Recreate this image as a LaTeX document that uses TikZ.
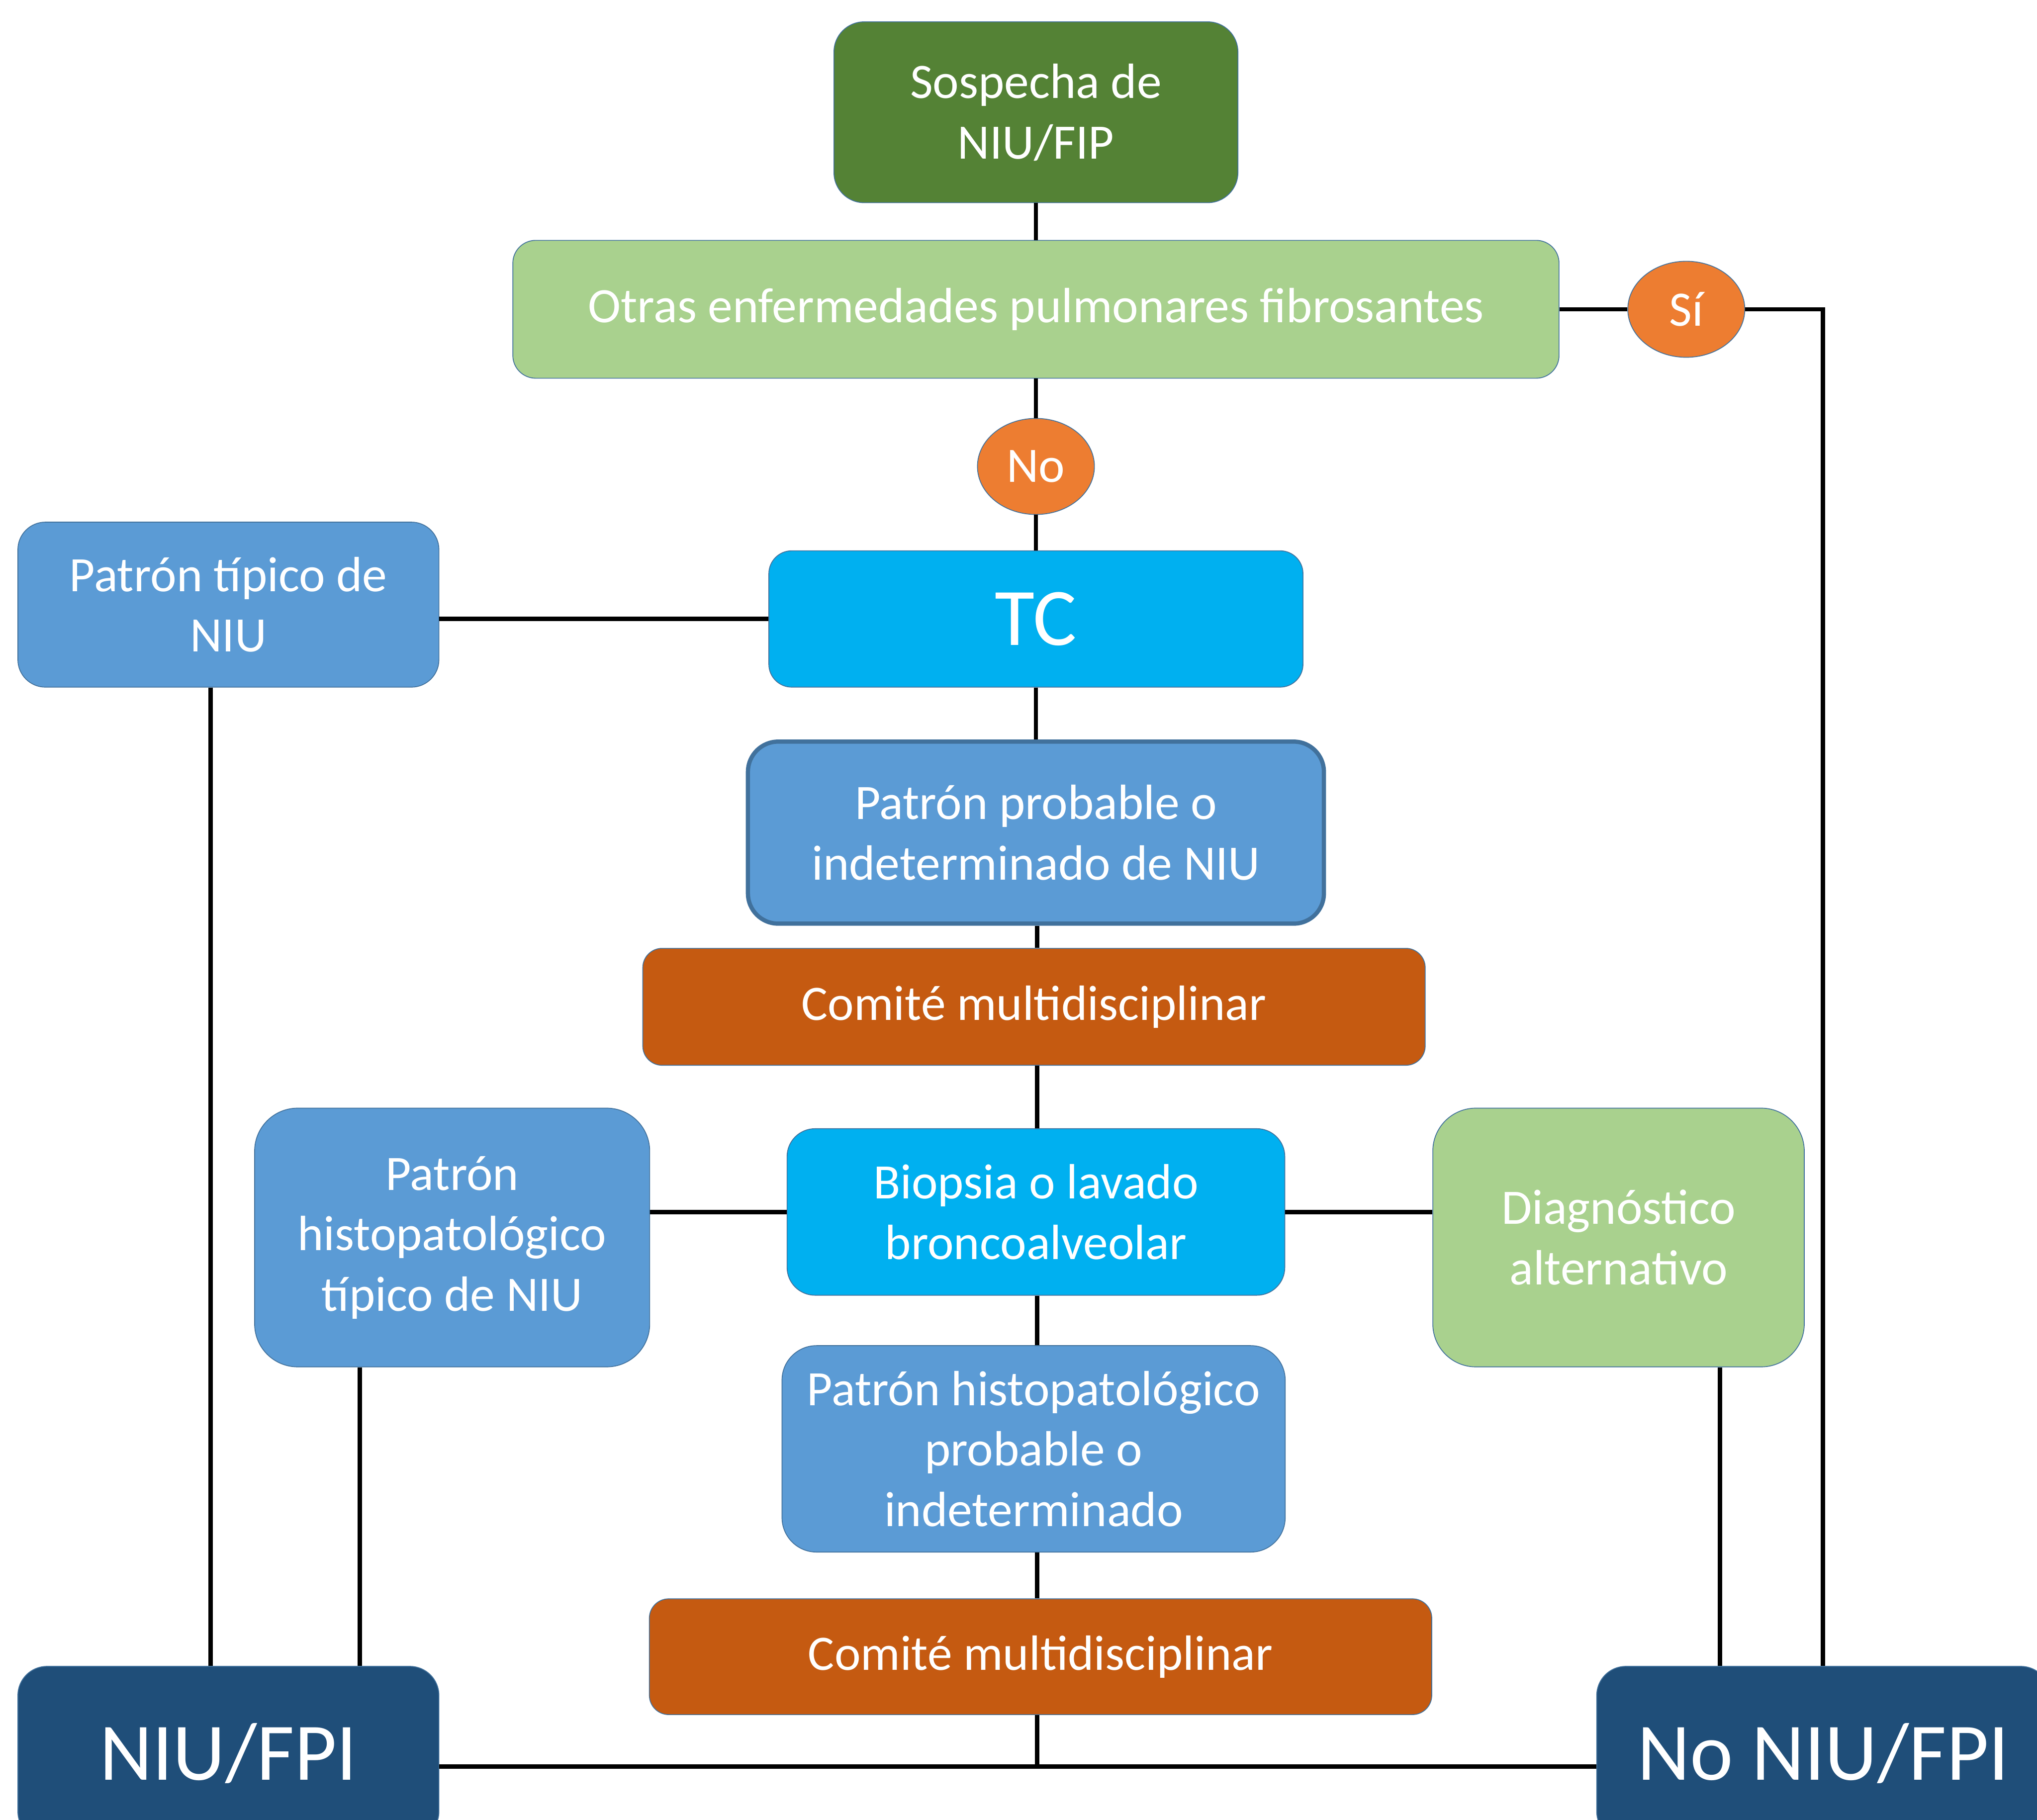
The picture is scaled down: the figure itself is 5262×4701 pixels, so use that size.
\documentclass[tikz,border=0pt]{standalone}
\usepackage{fontspec}
\setmainfont{Carlito}
\usetikzlibrary{shapes.geometric}
\definecolor{cGreenD}{HTML}{548235}
\definecolor{cGreenL}{HTML}{A9D18E}
\definecolor{cOrange}{HTML}{ED7D31}
\definecolor{cCyan}{HTML}{00B0F0}
\definecolor{cBlue}{HTML}{5B9BD5}
\definecolor{cBrown}{HTML}{C55A11}
\definecolor{cNavy}{HTML}{1F4E79}
\definecolor{cEdge}{HTML}{41719C}
\tikzset{
  box/.style={rectangle, draw=cEdge, line width=0.6pt, text=white, align=center, inner sep=0pt,
    font=\fontsize{36.4}{44.4}\selectfont},
  bigbox/.style={box, font=\fontsize{60}{72}\selectfont},
  oval/.style={ellipse, draw=cEdge, line width=0.6pt, fill=cOrange, text=white, inner sep=0pt,
    font=\fontsize{36.4}{44.4}\selectfont, minimum width=3.02cm, minimum height=2.48cm},
  conn/.style={line width=3.2pt, black}
}
\begin{document}
\begin{tikzpicture}[x=0.01cm, y=-0.01cm]
\useasboundingbox (0,0) rectangle (5262,4701);
\clip (0,0) rectangle (5262,4701);
\fill[white] (0,0) rectangle (5262,4701);

\node[box, fill=cGreenD, minimum width=10.43cm, minimum height=4.67cm, rounded corners=0.78cm] (sosp) at (2676,290) {Sospecha de\\NIU/FIP};
\node[box, fill=cGreenL, minimum width=27.01cm, minimum height=3.56cm, rounded corners=0.59cm] (otras) at (2676,799) {Otras enfermedades pulmonares fibrosantes};
\node[oval] (si) at (4356,799) {Sí};
\node[oval] (no) at (2676,1205) {No};
\node[bigbox, fill=cCyan, minimum width=13.79cm, minimum height=3.52cm, rounded corners=0.59cm] (tc) at (2676,1599) {TC};
\node[box, fill=cBlue, minimum width=10.87cm, minimum height=4.26cm, rounded corners=0.71cm] (ptip) at (590,1562) {Patrón típico de\\NIU};
\node[box, fill=cBlue, line width=3.1pt, minimum width=14.87cm, minimum height=4.70cm, rounded corners=0.78cm] (pprob) at (2676,2151) {Patrón probable o\\indeterminado de NIU};
\node[box, fill=cBrown, minimum width=20.20cm, minimum height=3.02cm, rounded corners=0.50cm] (com1) at (2671,2601) {Comité multidisciplinar};
\node[box, fill=cCyan, minimum width=12.85cm, minimum height=4.30cm, rounded corners=0.72cm] (biop) at (2676,3131) {Biopsia o lavado\\broncoalveolar};
\node[box, fill=cBlue, minimum width=10.20cm, minimum height=6.68cm, rounded corners=1.11cm] (phtip) at (1168,3197) {Patrón\\histopatológico\\típico de NIU};
\node[box, fill=cGreenL, minimum width=9.59cm, minimum height=6.68cm, rounded corners=1.11cm] (diag) at (4181,3197) {Diagnóstico\\alternativo};
\node[box, fill=cBlue, minimum width=12.99cm, minimum height=5.33cm, rounded corners=0.89cm] (phprob) at (2670,3743) {Patrón histopatológico\\probable o\\indeterminado};
\node[box, fill=cBrown, minimum width=20.20cm, minimum height=2.99cm, rounded corners=0.50cm] (com2) at (2688,4280) {Comité multidisciplinar};
\node[bigbox, fill=cNavy, minimum width=10.87cm, minimum height=4.50cm, rounded corners=0.75cm] (niufpi) at (590,4530) {NIU/FPI};
\node[bigbox, fill=cNavy, minimum width=11.70cm, minimum height=4.50cm, rounded corners=0.75cm] (nofpi) at (4710,4530) {No NIU/FPI};

\coordinate (siturn) at (4709,799);
\coordinate (bline) at ([yshift=-0.34cm]niufpi.east);
\coordinate (spine) at (2679,0);

\draw[conn] (sosp.south) -- (otras.north);
\draw[conn] (otras.south) -- (no.north);
\draw[conn] (no.south) -- (tc.north);
\draw[conn] (otras.east) -- (si.west);
\draw[conn] (si.east) -- (siturn) -- (siturn |- nofpi.north);
\draw[conn] (tc.west) -- (tc.west -| ptip.east);
\draw[conn] ([xshift=-0.46cm]ptip.south) -- ([xshift=-0.46cm]ptip.south |- niufpi.north);
\draw[conn] (tc.south) -- (pprob.north);
\draw[conn] (spine |- pprob.south) -- (spine |- com1.north);
\draw[conn] (spine |- com1.south) -- (spine |- biop.north);
\draw[conn] (biop.west) -- (biop.west -| phtip.east);
\draw[conn] (biop.east) -- (biop.east -| diag.west);
\draw[conn] (spine |- biop.south) -- (spine |- phprob.north);
\draw[conn] (spine |- phprob.south) -- (spine |- com2.north);
\draw[conn] ([xshift=-2.38cm]phtip.south) -- ([xshift=-2.38cm]phtip.south |- niufpi.north);
\draw[conn] ([xshift=2.62cm]diag.south) -- ([xshift=2.62cm]diag.south |- nofpi.north);
\draw[conn] (bline) -- (bline -| nofpi.west);
\draw[conn] (spine |- com2.south) -- (spine |- bline);
\end{tikzpicture}
\end{document}
